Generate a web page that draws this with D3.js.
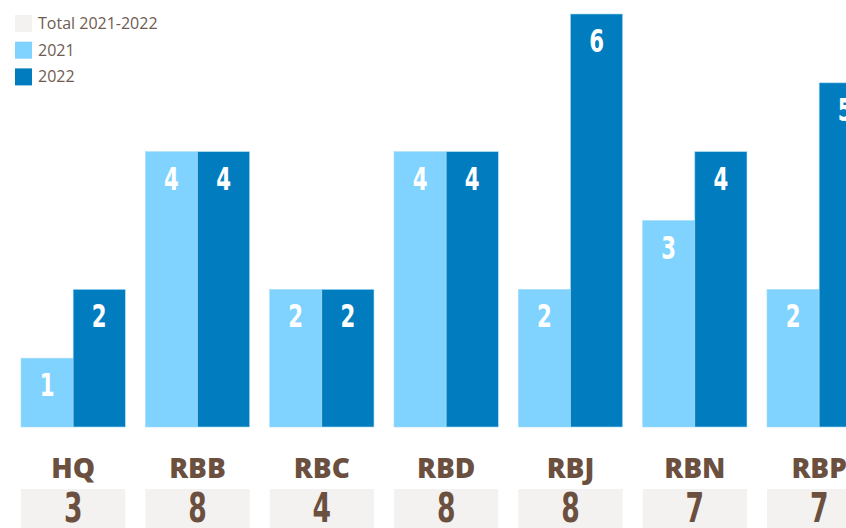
<!DOCTYPE html>
<html><head><meta charset="utf-8">
<script src="https://cdn.jsdelivr.net/npm/d3@7/dist/d3.min.js"></script>
<style>body{margin:0;background:#fff;overflow:hidden}svg{display:block}</style>
</head><body>
<svg id="c" width="846" height="528"></svg>
<script>
const categories = ["HQ","RBB","RBC","RBD","RBJ","RBN","RBP"];
const values2021 = [1,4,2,4,2,3,2];
const values2022 = [2,4,2,4,6,4,5];
const totals = [3,8,4,8,8,7,7];
const seriesNames = ["2021","2022"];
const legendLabels = ["Total 2021-2022","2021","2022"];

const colors = {"2021":"#80d2ff","2022":"#007cbf"};
const totalBg = "#f4f2f0";
const brown = "#6b4f3f";
const svg = d3.select("#c");

const x = d3.scaleBand().domain(categories).range([21, 871.3]).paddingInner(0.161).paddingOuter(0);
const xs = d3.scaleBand().domain(seriesNames).range([0, x.bandwidth()]);
const y = d3.scaleLinear().domain([0,6]).range([427,14]);

const data = categories.map((c,i)=>({cat:c, vals:[{s:"2021",v:values2021[i]},{s:"2022",v:values2022[i]}], total:totals[i]}));

const g = svg.selectAll("g.grp").data(data).join("g").attr("class","grp")
  .attr("transform", d=>`translate(${x(d.cat)},0)`);

g.selectAll("rect.bar").data(d=>d.vals).join("rect").attr("class","bar")
  .attr("x", d=>xs(d.s)).attr("width", xs.bandwidth())
  .attr("y", d=>y(d.v)).attr("height", d=>y(0)-y(d.v))
  .attr("fill", d=>colors[d.s]).attr("stroke","#a9dcf5").attr("stroke-width",0.6);

const digitFont = "'DejaVu Sans Condensed','DejaVu Sans',sans-serif";
g.selectAll("text.val").data(d=>d.vals).join("text").attr("class","val")
  .attr("transform", d=>`translate(${xs(d.s)+xs.bandwidth()/2},${y(d.v)+38}) scale(0.74,1)`)
  .attr("text-anchor","middle").attr("fill","#fff")
  .style("font-family",digitFont).style("font-weight","bold").style("font-size","32px")
  .text(d=>d.v);

g.append("text").attr("x", x.bandwidth()/2).attr("y", 478)
  .attr("text-anchor","middle").attr("fill",brown)
  .style("font-family","'Open Sans',sans-serif").style("font-weight","800").style("font-size","28px")
  .text(d=>d.cat);

g.append("rect").attr("x",0).attr("y",489).attr("width",x.bandwidth()).attr("height",60).attr("fill",totalBg);
g.append("text")
  .attr("transform", `translate(${x.bandwidth()/2},522) scale(0.74,1)`)
  .attr("text-anchor","middle").attr("fill",brown)
  .style("font-family",digitFont).style("font-weight","bold").style("font-size","40px")
  .text(d=>d.total);

const legendColors = [totalBg, colors["2021"], colors["2022"]];
const lg = svg.append("g").selectAll("g").data(legendLabels).join("g")
  .attr("transform",(d,i)=>`translate(15,${15+i*26.7})`);
lg.append("rect").attr("width",17).attr("height",17).attr("fill",(d,i)=>legendColors[i]);
lg.append("text").attr("x",23).attr("y",14).attr("fill","#6e5c52")
  .style("font-family","'Open Sans',sans-serif").style("font-size","16px").text(d=>d);
</script>
</body></html>
